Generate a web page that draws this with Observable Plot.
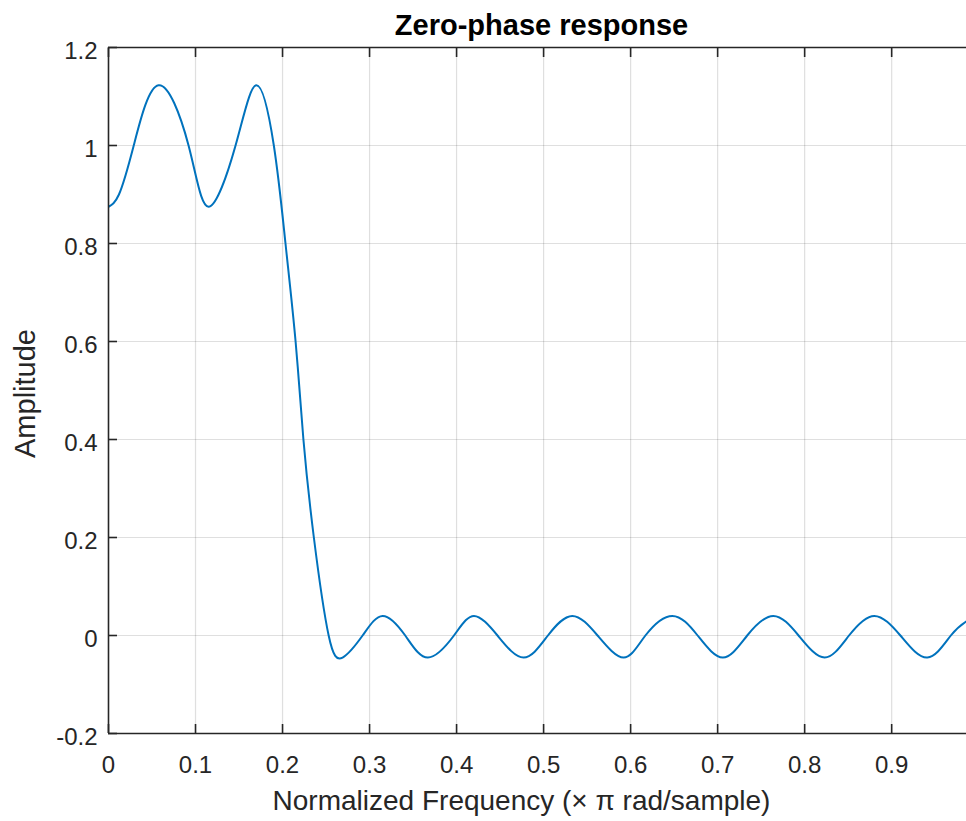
<!DOCTYPE html>
<html>
<head>
<meta charset="utf-8">
<script src="https://cdn.jsdelivr.net/npm/d3@7"></script>
<script src="https://cdn.jsdelivr.net/npm/@observablehq/plot@0.6"></script>
<style>
  html, body { margin: 0; padding: 0; background: #fff; }
  #chart { width: 966px; height: 821px; }
</style>
</head>
<body>
<div id="chart"></div>
<script>
// Normalized frequency (x pi rad/sample)
const freq = [0, 0.012, 0.029, 0.0575, 0.092, 0.115, 0.146, 0.170, 0.190, 0.2034, 0.215, 0.224, 0.236, 0.253, 0.269,
  0.292, 0.315, 0.341, 0.367, 0.397, 0.420, 0.447, 0.477, 0.505, 0.533, 0.562, 0.592, 0.617, 0.648, 0.677, 0.706,
  0.734, 0.764, 0.793, 0.823, 0.851, 0.880, 0.910, 0.941, 0.968, 0.986];
// Amplitude
const amp = [0.875, 0.9, 1.0, 1.123, 1.0, 0.875, 1.0, 1.123, 1.0, 0.8, 0.6, 0.4, 0.2, 0.0, -0.045,
  0.0, 0.040, 0.0, -0.045, 0.0, 0.040, 0.0, -0.045, 0.0, 0.040, 0.0, -0.045, 0.0, 0.040, 0.0, -0.045,
  0.0, 0.040, 0.0, -0.045, 0.0, 0.040, 0.0, -0.045, 0.0, 0.029];

const xTicks = [0, 0.1, 0.2, 0.3, 0.4, 0.5, 0.6, 0.7, 0.8, 0.9];
const xTickLabels = ["0", "0.1", "0.2", "0.3", "0.4", "0.5", "0.6", "0.7", "0.8", "0.9"];
const yTicks = [-0.2, 0, 0.2, 0.4, 0.6, 0.8, 1.0, 1.2];
const yTickLabels = ["-0.2", "0", "0.2", "0.4", "0.6", "0.8", "1", "1.2"];

const titleText = "Zero-phase response";
const xLabelText = "Normalized Frequency (\u00D7 \u03C0 rad/sample)";
const yLabelText = "Amplitude";

const data = freq.map((f, i) => ({f, a: amp[i]}));
const font = "'Liberation Sans', Arial, Helvetica, sans-serif";
const ink = "#262626";

const chart = Plot.plot({
  width: 966,
  height: 821,
  marginLeft: 108,
  marginRight: 0,
  marginTop: 47,
  marginBottom: 88,
  style: {fontFamily: font, background: "#fff", color: ink},
  x: {domain: [0, 0.986]},
  y: {domain: [-0.2, 1.2]},
  marks: [
    Plot.gridX(xTicks.slice(1), {stroke: ink, strokeOpacity: 0.15, strokeWidth: 1.2}),
    Plot.gridY(yTicks.slice(1, -1), {stroke: ink, strokeOpacity: 0.15, strokeWidth: 1.2}),
    Plot.line(data, {x: "f", y: "a", curve: "natural", stroke: "#0072BD", strokeWidth: 2, clip: true}),
    Plot.ruleX([0], {stroke: ink, strokeWidth: 1.6}),
    Plot.ruleY([-0.2], {stroke: ink, strokeWidth: 1.6}),
    Plot.ruleY([1.2], {stroke: ink, strokeWidth: 1.6}),
    // inward tick marks
    Plot.axisX(xTicks, {anchor: "bottom", tickSize: -9, fill: "none", stroke: ink, strokeWidth: 1.6, label: null}),
    Plot.axisX(xTicks, {anchor: "top", tickSize: -9, fill: "none", stroke: ink, strokeWidth: 1.6, label: null}),
    Plot.axisY(yTicks, {anchor: "left", tickSize: -9, fill: "none", stroke: ink, strokeWidth: 1.6, label: null}),
    // tick labels
    Plot.axisX(xTicks, {anchor: "bottom", tickSize: 0, tickPadding: 22, fontSize: 24, fill: ink,
      tickFormat: (d) => xTickLabels[xTicks.indexOf(d)], label: null}),
    Plot.axisY(yTicks, {anchor: "left", tickSize: 0, tickPadding: 11, dy: 4, fontSize: 24, fill: ink,
      tickFormat: (d) => yTickLabels[yTicks.indexOf(d)], label: null}),
    // title and axis labels
    Plot.text([titleText], {frameAnchor: "top", dy: -33, dx: 4, fontSize: 29, fontWeight: "bold", fill: "#000"}),
    Plot.text([xLabelText], {frameAnchor: "bottom", dy: 76, dx: -16, fontSize: 28, fill: ink}),
    Plot.text([yLabelText], {frameAnchor: "left", textAnchor: "middle", dx: -83, dy: 3, rotate: -90, fontSize: 29, fill: ink})
  ]
});
document.getElementById("chart").appendChild(chart);
</script>
</body>
</html>
